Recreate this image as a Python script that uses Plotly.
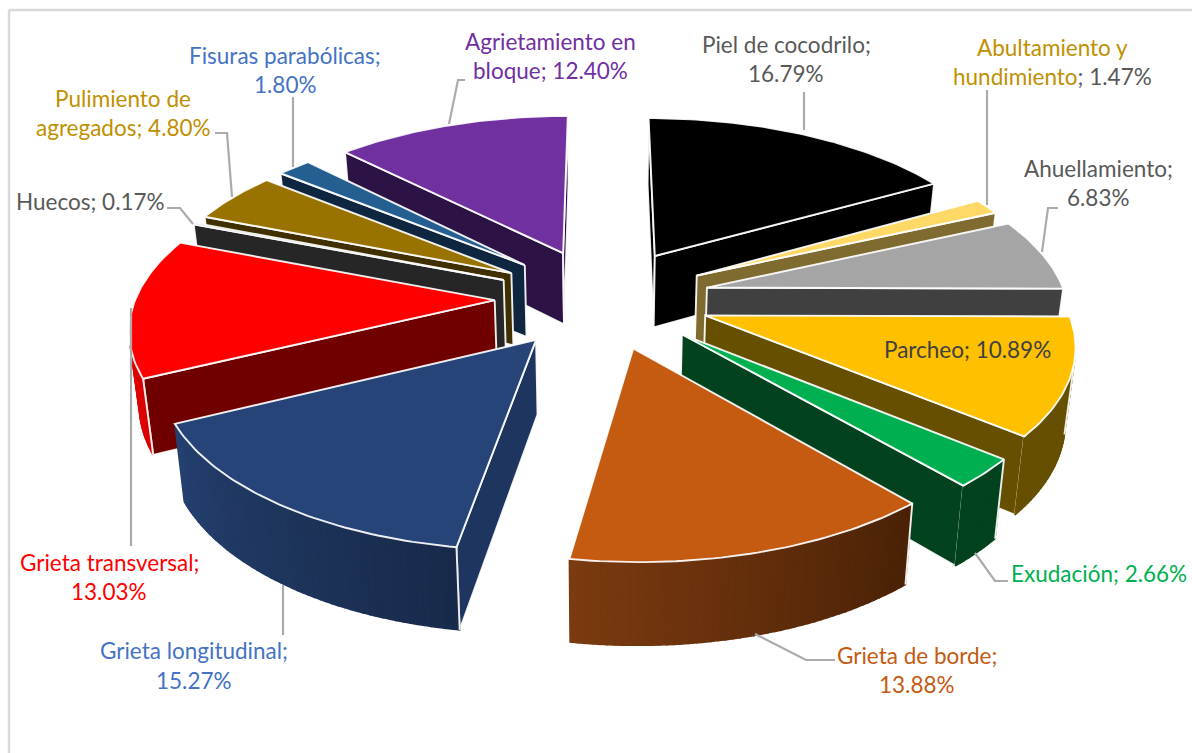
import numpy as np
import plotly.graph_objects as go

# Pavement distress shares, clockwise from 12 o'clock
categories = ["Piel de cocodrilo", "Abultamiento y hundimiento", "Ahuellamiento", "Parcheo",
              "Exudación", "Grieta de borde", "Grieta longitudinal", "Grieta transversal",
              "Huecos", "Pulimiento de agregados", "Fisuras parabólicas", "Agrietamiento en bloque"]
shares = [16.79, 1.47, 6.83, 10.89, 2.66, 13.88, 15.27, 13.03, 0.17, 4.80, 1.80, 12.40]

top_colors = ["#000000", "#FFD966", "#A5A5A5", "#FFC000", "#00B050", "#C55A11",
              "#264478", "#FF0000", "#262626", "#997300", "#255E91", "#7030A0"]
side_colors = ["#000000", "#7F6A30", "#404040", "#665000", "#03421F", "#5A2A08",
               "#1E3560", "#700000", "#262626", "#403000", "#0F2640", "#2D1245"]
# Rim colour at the first and last angle of each slice
rim_colors = [("#000000", "#000000"), ("#7F6A30", "#7F6A30"), ("#404040", "#404040"),
              ("#665000", "#665000"), ("#03421F", "#03421F"), ("#4A2206", "#7B3A10"),
              ("#182A4A", "#24406F"), ("#D80000", "#FF0000"), ("#262626", "#262626"),
              ("#403000", "#403000"), ("#0F2640", "#0F2640"), ("#2D1245", "#2D1245")]

# Projection of the tilted, exploded disc onto the page
CX, CY = 602.5, 298.0
SCALE_X, SCALE_Y = 359.0, 168.0
PERSPECTIVE = 0.14
EXPLODE = 0.30
BOTTOM_SHRINK = 0.978
BOTTOM_DROP = 73.0


def project_top(x, y):
    s = 1.0 / (1.0 + PERSPECTIVE * y)
    return CX + SCALE_X * x * s, CY - SCALE_Y * y * s


def project_bottom(x, y):
    s = 1.0 / (1.0 + PERSPECTIVE * y)
    px, py = project_top(x, y)
    return CX + BOTTOM_SHRINK * (px - CX), CY + BOTTOM_SHRINK * (py - CY) + BOTTOM_DROP * s


def area(poly):
    xs, ys = zip(*poly)
    return 0.5 * sum(xs[i] * ys[(i + 1) % len(xs)] - xs[(i + 1) % len(xs)] * ys[i] for i in range(len(xs)))


def mix(a, b, t):
    ca = [int(a[i:i + 2], 16) for i in (1, 3, 5)]
    cb = [int(b[i:i + 2], 16) for i in (1, 3, 5)]
    return "#" + "".join(f"{round(p + (q - p) * t):02X}" for p, q in zip(ca, cb))


fig = go.Figure()


def polygon(points, fill, line=None, width=1.5):
    xs = [p[0] for p in points] + [points[0][0]]
    ys = [p[1] for p in points] + [points[0][1]]
    fig.add_trace(go.Scatter(x=xs, y=ys, mode="lines", fill="toself", fillcolor=fill,
                             line=dict(color=line or fill, width=width),
                             hoverinfo="skip", showlegend=False))


total = sum(shares)
edges = np.concatenate([[0.0], np.cumsum(shares)]) / total * 2 * np.pi
mids = (edges[:-1] + edges[1:]) / 2
EDGE = "rgba(255,255,255,0.92)"
EDGE_WIDTH = 1.9

# Far slices are painted first so nearer ones cover them
for i in sorted(range(len(shares)), key=lambda k: -np.cos(mids[k])):
    a0, a1 = edges[i], edges[i + 1]
    ox, oy = EXPLODE * np.sin(mids[i]), EXPLODE * np.cos(mids[i])
    angles = np.linspace(a0, a1, max(3, int(np.degrees(a1 - a0)) + 2))
    rim = [(ox + np.sin(t), oy + np.cos(t)) for t in angles]
    apex = (ox, oy)

    # Radial walls, visible only when they face the viewer
    start_wall = [project_top(*apex), project_top(*rim[0]), project_bottom(*rim[0]), project_bottom(*apex)]
    end_wall = [project_top(*rim[-1]), project_top(*apex), project_bottom(*apex), project_bottom(*rim[-1])]
    for wall in (start_wall, end_wall):
        if area(wall) < 0:
            polygon(wall, side_colors[i], EDGE, EDGE_WIDTH)

    # Curved outer wall as shaded strips
    visible = []
    for j in range(len(rim) - 1):
        strip = [project_top(*rim[j]), project_top(*rim[j + 1]),
                 project_bottom(*rim[j + 1]), project_bottom(*rim[j])]
        if area(strip) < 0:
            polygon(strip, mix(*rim_colors[i], j / max(1, len(rim) - 2)))
            visible.append(j)
    if visible:
        lo, hi = visible[0], visible[-1] + 1
        fig.add_trace(go.Scatter(
            x=[project_bottom(*rim[lo])[0], project_top(*rim[lo])[0], project_top(*rim[hi])[0]],
            y=[project_bottom(*rim[lo])[1], project_top(*rim[lo])[1], project_top(*rim[hi])[1]],
            mode="lines", line=dict(color=EDGE, width=EDGE_WIDTH), hoverinfo="skip", showlegend=False))

    polygon([project_top(*apex)] + [project_top(*p) for p in rim], top_colors[i], EDGE, EDGE_WIDTH)

# Leader lines
leaders = [
    [(804, 92), (804, 130)], [(987, 90), (987, 205)], [(1058, 208), (1048, 208), (1042, 252)],
    [(835, 660), (806, 660), (755, 634)], [(1008, 581), (995, 581), (975, 553)],
    [(283, 585), (283, 635)], [(131, 308), (131, 546)], [(167, 208), (180, 208), (193, 224)],
    [(215, 133), (227, 133), (232, 197)], [(293, 97), (293, 167)], [(465, 80), (458, 80), (449, 124)],
]
for path in leaders:
    fig.add_trace(go.Scatter(x=[p[0] for p in path], y=[p[1] for p in path], mode="lines",
                             line=dict(color="#ABABAB", width=2.2), hoverinfo="skip", showlegend=False))

GREY = "#595959"
pct = [f"{v:.2f}%" for v in shares]
label_lines = [
    (786, [(44, "Piel de cocodrilo;", GREY), (73, pct[0], GREY)]),
    (1052, [(47, "Abultamiento y", "#BF9000"),
            (76, f"<span style='color:#BF9000'>hundimiento</span>; {pct[1]}", GREY)]),
    (1098, [(168, "Ahuellamiento;", GREY), (197, pct[2], GREY)]),
    (967, [(349, f"Parcheo; {pct[3]}", "#404040")]),
    (1099, [(573, f"Exudación; {pct[4]}", "#00B050")]),
    (917, [(655, "Grieta de borde;", "#C55A11"), (684, pct[5], "#C55A11")]),
    (194, [(650, "Grieta longitudinal;", "#4472C4"), (680, pct[6], "#4472C4")]),
    (109, [(562, "Grieta transversal;", "#FF0000"), (591, pct[7], "#FF0000")]),
    (90, [(201, f"Huecos; {pct[8]}", GREY)]),
    (123, [(98, "Pulimiento de", "#BF9000"), (127, f"agregados; {pct[9]}", "#BF9000")]),
    (285, [(55, "Fisuras parabólicas;", "#4472C4"), (84, pct[10], "#4472C4")]),
    (550, [(41, "Agrietamiento en", "#7030A0"), (70, f"bloque; {pct[11]}", "#7030A0")]),
]
for cx, lines in label_lines:
    for y, text, color in lines:
        fig.add_annotation(x=cx, y=y, text=text, showarrow=False, xanchor="center", yanchor="middle",
                           font=dict(family="Lato", size=22.5, color=color))

# Chart frame: only the left and top edges fall inside the page
fig.add_shape(type="line", x0=9, x1=9, y0=10, y1=753, line=dict(color="#D9D9D9", width=2.5))
fig.add_shape(type="line", x0=9, x1=1192, y0=10, y1=10, line=dict(color="#D9D9D9", width=2.5))

fig.update_layout(
    width=1192, height=753, margin=dict(l=0, r=0, t=0, b=0),
    paper_bgcolor="white", plot_bgcolor="white", showlegend=False,
    xaxis=dict(range=[0, 1192], visible=False, fixedrange=True),
    yaxis=dict(range=[753, 0], visible=False, fixedrange=True),
)
fig.write_html("out.html", config=dict(displayModeBar=False))
